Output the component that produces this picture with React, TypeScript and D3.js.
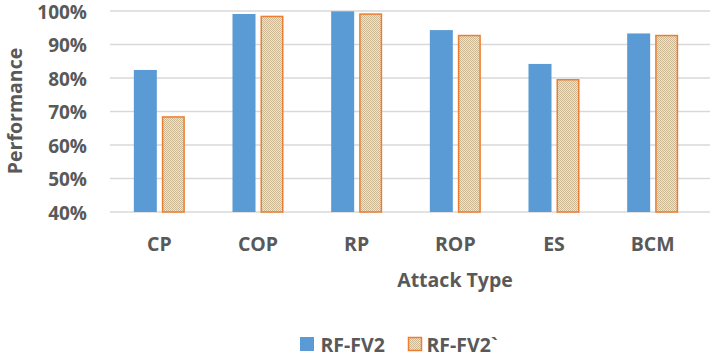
import React from "react";
import * as d3 from "d3";

const categories = ["CP", "COP", "RP", "ROP", "ES", "BCM"];
const seriesNames = ["RF-FV2", "RF-FV2`"];
const rfFv2 = [0.824, 0.991, 0.999, 0.943, 0.842, 0.933];
const rfFv2b = [0.686, 0.986, 0.993, 0.929, 0.797, 0.929];
const yTicks = [0.4, 0.5, 0.6, 0.7, 0.8, 0.9, 1.0];

const width = 710;
const height = 359;
const textColor = "#595959";
const font = "'Open Sans', sans-serif";

export default function App() {
  const x = d3.scaleBand().domain(categories).range([110, 702]);
  const y = d3.scaleLinear().domain([0.4, 1.0]).range([212, 11]);
  const barW = 23;
  const gap = 5;
  const fmt = d3.format(".0%");

  return (
    <svg
      width={width}
      height={height}
      style={{ position: "absolute", left: 0, top: 0, background: "#fff" }}
      fontFamily={font}
      fontWeight="bold"
    >
      <defs>
        <pattern id="dots" width="2" height="2" patternUnits="userSpaceOnUse">
          <rect width="2" height="2" fill="#f1e4cb" />
          <rect width="1" height="1" fill="#cdb894" />
          <rect x="1" y="1" width="1" height="1" fill="#cdb894" />
        </pattern>
      </defs>

      {/* gridlines */}
      <g stroke="#d9d9d9" strokeWidth="1.3">
        {yTicks.map((t) => (
          <line key={t} x1={110} x2={710} y1={y(t)} y2={y(t)} />
        ))}
      </g>

      {/* y tick labels */}
      <g fill={textColor} fontSize="19" textAnchor="end">
        {yTicks.map((t) => (
          <text key={t} x={87} y={y(t) + 7.5}>
            {fmt(t)}
          </text>
        ))}
      </g>

      {/* bars */}
      {categories.map((c, i) => {
        const cx = x(c)! + x.bandwidth() / 2;
        return (
          <g key={c}>
            <rect
              x={cx - gap / 2 - barW}
              y={y(rfFv2[i])}
              width={barW}
              height={y(0.4) - y(rfFv2[i])}
              fill="#5b9bd5"
            />
            <rect
              x={cx + gap / 2 + 0.75}
              y={y(rfFv2b[i]) + 0.75}
              width={barW - 1.5}
              height={y(0.4) - y(rfFv2b[i]) - 0.75}
              fill="url(#dots)"
              stroke="#ed7d31"
              strokeWidth="1.5"
            />
          </g>
        );
      })}

      {/* category labels */}
      <g fill={textColor} fontSize="19.5" textAnchor="middle">
        {categories.map((c) => (
          <text key={c} x={x(c)! + x.bandwidth() / 2} y={251}>
            {c}
          </text>
        ))}
      </g>

      <text x={455} y={287} fill={textColor} fontSize="19.5" textAnchor="middle">
        Attack Type
      </text>
      <text
        transform="translate(22,111) rotate(-90)"
        fill={textColor}
        fontSize="19.5"
        textAnchor="middle"
      >
        Performance
      </text>

      {/* legend */}
      <rect x={300} y={337} width={14} height={14} fill="#5b9bd5" />
      <text x={320.5} y={351.5} fill={textColor} fontSize="19.5">
        {seriesNames[0]}
      </text>
      <rect
        x={408.5}
        y={337.5}
        width={13}
        height={13}
        fill="url(#dots)"
        stroke="#ed7d31"
        strokeWidth="1.5"
      />
      <text x={426.5} y={351.5} fill={textColor} fontSize="19.5">
        {seriesNames[1]}
      </text>
    </svg>
  );
}
